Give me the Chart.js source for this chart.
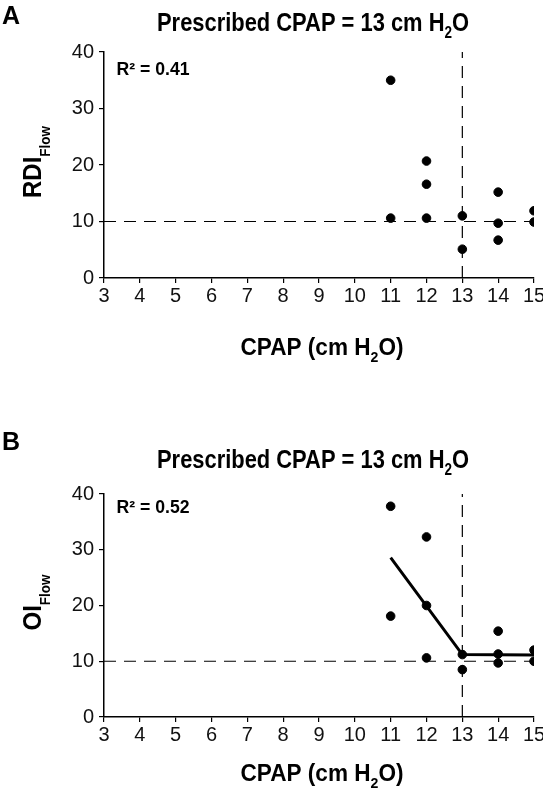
<!DOCTYPE html>
<html>
<head>
<meta charset="utf-8">
<script src="https://cdn.jsdelivr.net/npm/chart.js@4.4.0/dist/chart.umd.min.js"></script>
<style>
  html, body { margin: 0; padding: 0; background: #fff; }
  #wrapA { position: absolute; left: 0; top: 0; }
  #wrapB { position: absolute; left: 0; top: 400px; }
</style>
</head>
<body>
<div id="wrapA"><canvas id="chartA" width="543" height="400"></canvas></div>
<div id="wrapB"><canvas id="chartB" width="543" height="396"></canvas></div>
<script>
// panel A: RDI (flow) vs CPAP
const rdiCpap = [11, 11, 12, 12, 12, 13, 13, 14, 14, 14, 15, 15]
const rdiFlow = [35.0, 10.6, 20.7, 16.6, 10.6, 11.0, 5.1, 15.2, 9.7, 6.7, 11.9, 9.9]

// panel B: OI (flow) vs CPAP
const oiCpap = [11, 11, 12, 12, 12, 13, 13, 14, 14, 14, 15, 15]
const oiFlow = [37.8, 18.1, 32.3, 20.0, 10.6, 11.2, 8.5, 15.4, 11.3, 9.7, 12.0, 10.0]

// piecewise fit in panel B
const fitCpap = [11, 13, 15]
const fitOi = [28.6, 11.2, 11.1]

const prescribedCpap = 13
const refLevel = 10
const xRange = [3, 15]
const yRange = [0, 40]

const FONT = "'Liberation Sans', Arial, sans-serif"

// bold text with a subscript, squeezed sideways to look like a narrow face
function drawRich(ctx, parts, cx, y, width) {
    let total = 0
    parts.forEach(p => {
        ctx.font = "bold " + p.size + "px " + FONT
        p.w = ctx.measureText(p.text).width
        total += p.w
    })
    const k = width / total
    ctx.save()
    ctx.translate(cx - width / 2, y)
    ctx.scale(k, 1)
    let x = 0
    parts.forEach(p => {
        ctx.font = "bold " + p.size + "px " + FONT
        ctx.fillText(p.text, x, p.dy || 0)
        x += p.w
    })
    ctx.restore()
}

const decorPlugin = {
    id: "decor",
    afterDraw(chart, args, opts) {
        const ctx = chart.ctx
        const area = chart.chartArea
        const midY = (area.top + area.bottom) / 2
        ctx.save()
        ctx.fillStyle = "#000"
        ctx.textBaseline = "alphabetic"
        ctx.textAlign = "left"

        ctx.font = "bold 25px " + FONT
        ctx.fillText(opts.letter, 2, opts.letterY)

        drawRich(ctx, [
            { text: "Prescribed CPAP = 13 cm H", size: 26 },
            { text: "2", size: 16, dy: 7 },
            { text: "O", size: 26 }
        ], 313, opts.titleY, 312)

        drawRich(ctx, [{ text: opts.rText, size: 18 }], area.left + 49, area.top + opts.rDy, 73)

        drawRich(ctx, [
            { text: "CPAP (cm H", size: 24 },
            { text: "2", size: 15, dy: 7 },
            { text: "O)", size: 24 }
        ], 322, opts.xTitleY, 163)

        ctx.translate(41, midY - 3)
        ctx.rotate(-Math.PI / 2)
        drawRich(ctx, [
            { text: opts.yMain, size: 25 },
            { text: "Flow", size: 14, dy: 9 }
        ], 0, 0, opts.yWidth)
        ctx.restore()
    }
}

function makeChart(id, xs, ys, fit, decor, plotBottom, canvasH, plotTop) {
    const points = xs.map((x, i) => ({ x: x, y: ys[i] }))
    const datasets = [
        {
            type: "line",
            data: [{ x: xRange[0], y: refLevel }, { x: xRange[1], y: refLevel }],
            borderColor: "#000", borderWidth: 1.2, borderDash: [12, 8],
            pointRadius: 0, order: 3
        },
        {
            type: "line",
            data: [{ x: prescribedCpap, y: yRange[0] }, { x: prescribedCpap, y: yRange[1] }],
            borderColor: "#000", borderWidth: 1.2, borderDash: [12, 8],
            pointRadius: 0, order: 3
        },
        {
            type: "scatter",
            data: points,
            backgroundColor: "#000", borderColor: "#000",
            pointRadius: 4.3, order: 1
        }
    ]
    if (fit) {
        datasets.push({
            type: "line",
            data: fit.x.map((x, i) => ({ x: x, y: fit.y[i] })),
            borderColor: "#000", borderWidth: 3, pointRadius: 0, order: 2
        })
    }
    return new Chart(document.getElementById(id), {
        type: "scatter",
        data: { datasets: datasets },
        plugins: [decorPlugin],
        options: {
            responsive: false,
            animation: false,
            devicePixelRatio: 1,
            layout: { padding: { top: plotTop, right: 9, bottom: 0, left: 0 } },
            plugins: {
                legend: { display: false },
                tooltip: { enabled: false },
                decor: decor
            },
            scales: {
                x: {
                    type: "linear", min: xRange[0], max: xRange[1],
                    ticks: { stepSize: 1, color: "#111", padding: 1, maxRotation: 0,
                             font: { family: FONT, size: 20 } },
                    grid: { display: true, drawOnChartArea: false, tickLength: 5, color: "#000", lineWidth: 1.2 },
                    border: { display: true, color: "#000", width: 1.5 },
                    afterFit(scale) {
                        scale.height = canvasH - plotBottom
                        scale.paddingLeft = 0
                        scale.paddingRight = 0
                    }
                },
                y: {
                    min: yRange[0], max: yRange[1],
                    ticks: { stepSize: 10, color: "#111", padding: 5,
                             font: { family: FONT, size: 20 } },
                    grid: { display: true, drawOnChartArea: false, tickLength: 5, color: "#000", lineWidth: 1.2 },
                    border: { display: true, color: "#000", width: 1.5 },
                    afterFit(scale) {
                        scale.width = 104
                        scale.paddingTop = 0
                        scale.paddingBottom = 0
                    }
                }
            }
        }
    })
}

makeChart("chartA", rdiCpap, rdiFlow, null,
    { letter: "A", letterY: 24, titleY: 31, rText: "R\u00B2 = 0.41", rDy: 23,
      xTitleY: 355, yMain: "RDI", yWidth: 72 },
    278, 400, 52)

makeChart("chartB", oiCpap, oiFlow, { x: fitCpap, y: fitOi },
    { letter: "B", letterY: 50, titleY: 68, rText: "R\u00B2 = 0.52", rDy: 19,
      xTitleY: 381, yMain: "OI", yWidth: 56 },
    317, 396, 94)
</script>
</body>
</html>
